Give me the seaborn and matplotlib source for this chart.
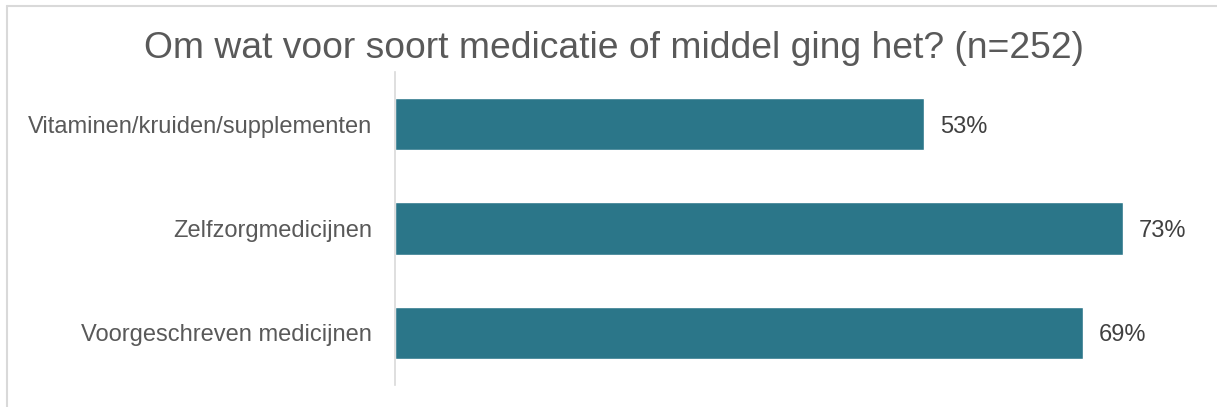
import matplotlib
matplotlib.use("Agg")
import matplotlib.pyplot as plt
from matplotlib.lines import Line2D
import seaborn as sns
import pandas as pd

categories = ["Vitaminen/kruiden/supplementen", "Zelfzorgmedicijnen", "Voorgeschreven medicijnen"]
values = [53, 73, 69]
value_labels = ["53%", "73%", "69%"]
title = "Om wat voor soort medicatie of middel ging het? (n=252)"

sns.set_theme(style="white")
plt.rcParams['font.family'] = ['Liberation Sans', 'DejaVu Sans']

df = pd.DataFrame({"cat": categories, "val": values})

fig = plt.figure(figsize=(12.17, 4.07), dpi=100)
ax = fig.add_axes([395/1217, 1-385/407, (1193-395)/1217, (385-72)/407])
sns.barplot(data=df, x="val", y="cat", orient="h", color="#2B7689", width=0.5,
            saturation=1, ax=ax)
ax.set_xlim(0, 80)
ax.set_ylim(2.5, -0.5)
ax.set_xlabel("")
ax.set_ylabel("")
ax.set_xticks([])
for s in ["top", "right", "bottom"]:
    ax.spines[s].set_visible(False)
ax.spines["left"].set_color("#D9D9D9")
ax.spines["left"].set_linewidth(1.2)
ax.tick_params(axis="y", length=0, pad=16.5, labelsize=17, labelcolor="#595959")
for c in ax.containers:
    texts = ax.bar_label(c, labels=value_labels, padding=11.5, fontsize=17, color="#404040")
    for t in texts:
        t.set_va("center_baseline")

fig.text(614/1217, 1-48/407, title, ha="center", va="center", fontsize=26.8, color="#595959")

fig.add_artist(Line2D([7/1217, 7/1217], [0, 1-6/407], color="#D9D9D9", lw=1.5, transform=fig.transFigure))
fig.add_artist(Line2D([7/1217, 1], [1-6/407, 1-6/407], color="#D9D9D9", lw=1.5, transform=fig.transFigure))

fig.savefig("out.png", dpi=100)
